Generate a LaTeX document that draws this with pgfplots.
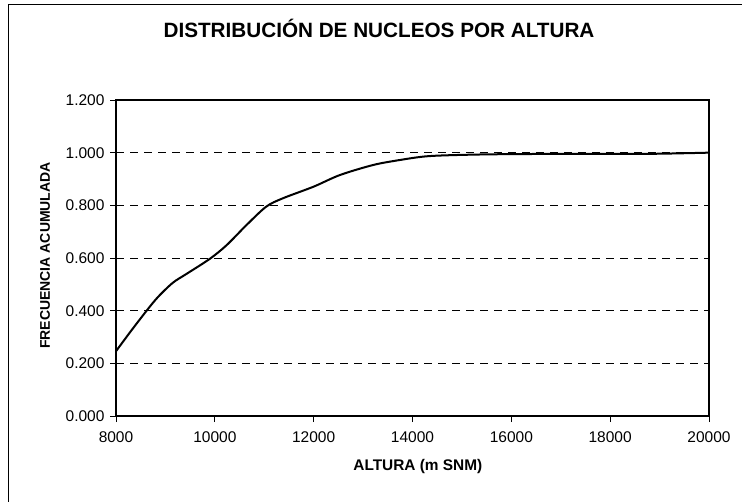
\documentclass[border=0pt]{standalone}
\usepackage{pgfplots}
\pgfplotsset{compat=1.18}
\usepackage{fontspec}
\setmainfont{Liberation Sans}
\begin{document}
\begin{tikzpicture}[x=1pt,y=1pt]
\useasboundingbox (0,0) rectangle (742,501);
\draw[line width=1pt] (8,-5) -- (8,496) -- (750,496);
\begin{axis}[
  at={(116pt,85pt)}, anchor=south west,
  scale only axis, width=593pt, height=316pt,
  xmin=8000, xmax=20000, ymin=0, ymax=1.2,
  xtick={8000,10000,...,20000},
  ytick={0,0.2,...,1.2},
  scaled x ticks=false, scaled y ticks=false,
  xtick pos=bottom, ytick pos=left,
  tick align=outside, major tick length=6pt,
  every tick/.style={black, line width=0.9pt},
  axis line style={line width=1.8pt},
  /pgf/number format/assume math mode=true,
  xticklabel style={/pgf/number format/1000 sep={}, /pgf/number format/fixed, font=\fontsize{15.5}{18}\selectfont, yshift=-6pt},
  yticklabel style={/pgf/number format/fixed, /pgf/number format/fixed zerofill, /pgf/number format/precision=3, font=\fontsize{15.5}{18}\selectfont, xshift=-2pt},
  ymajorgrids,
  major grid style={black, line width=0.9pt, dash pattern=on 8pt off 6pt},
  title={DISTRIBUCIÓN DE NUCLEOS POR ALTURA},
  title style={at={(axis description cs:0.4435,1.209)}, anchor=center, font=\fontsize{20.7}{24}\selectfont\bfseries},
  xlabel={ALTURA (m SNM)},
  xlabel style={at={(axis description cs:0.509,-0.161)}, anchor=center, font=\fontsize{15.4}{18}\selectfont\bfseries},
  ylabel={FRECUENCIA ACUMULADA},
  ylabel style={at={(axis description cs:-0.1197,0.508)}, anchor=center, font=\fontsize{14}{17}\selectfont\bfseries},
]
\addplot[black, line width=2pt, smooth, tension=0.5] coordinates {
(8000,0.246) (8300,0.322) (8620,0.400) (8850,0.452) (9150,0.506) (9430,0.540) (9900,0.597)
(10240,0.649) (10640,0.725) (11040,0.795) (11380,0.827) (12000,0.871)
(12530,0.915) (13200,0.953) (13740,0.972) (14340,0.987) (15350,0.993)
(16500,0.995) (18000,0.995) (19000,0.996) (20000,1.000)
};
\end{axis}
\end{tikzpicture}
\end{document}
